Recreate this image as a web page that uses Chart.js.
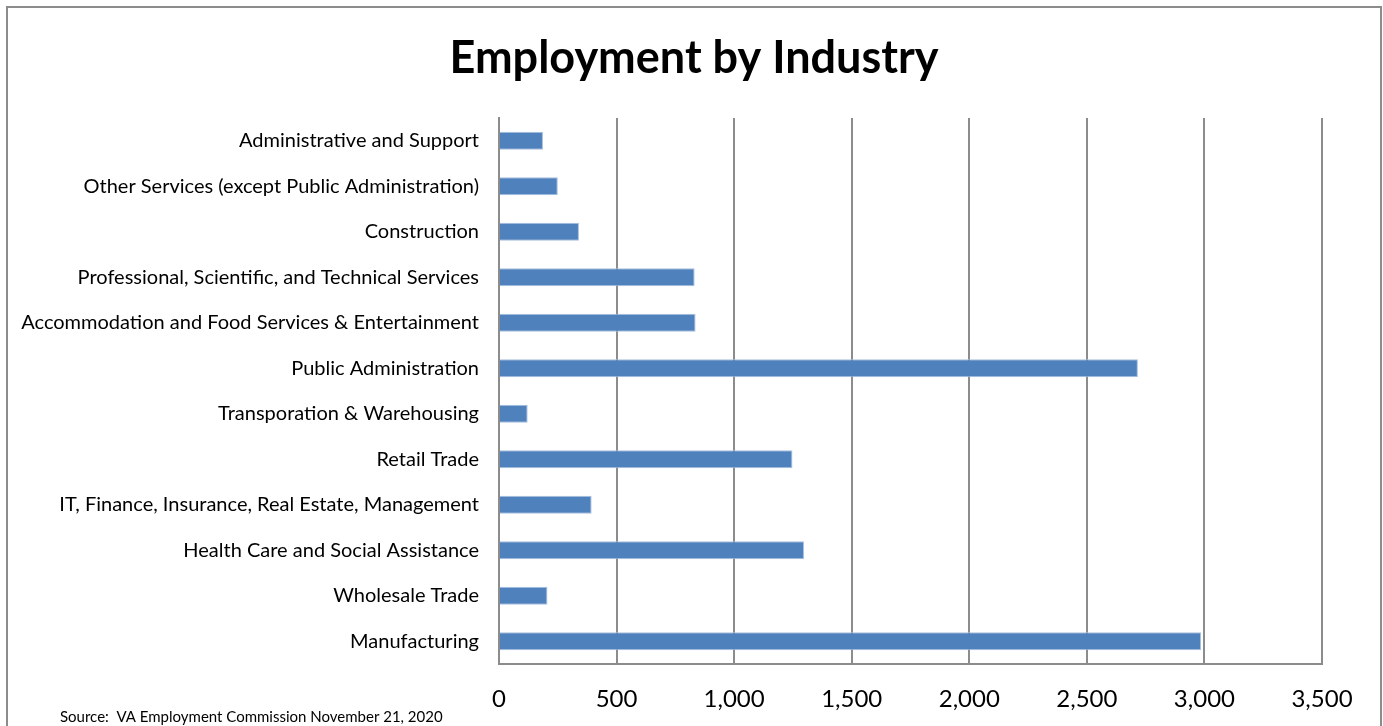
<!DOCTYPE html>
<html>
<head>
<meta charset="utf-8">
<title>Employment by Industry</title>
<script src="https://cdn.jsdelivr.net/npm/chart.js@4/dist/chart.umd.min.js"></script>
<style>
  html, body { margin: 0; padding: 0; background: #fff; }
  #wrap { width: 1383px; height: 726px; }
</style>
</head>
<body>
<div id="wrap"><canvas id="industryChart" width="1383" height="726"></canvas></div>
<script>
const industries = [
  "Administrative and Support",
  "Other Services (except Public Administration)",
  "Construction",
  "Professional, Scientific, and Technical Services",
  "Accommodation and Food Services & Entertainment",
  "Public Administration",
  "Transporation & Warehousing",
  "Retail Trade",
  "IT, Finance, Insurance, Real Estate, Management",
  "Health Care and Social Assistance",
  "Wholesale Trade",
  "Manufacturing",
];
const employees = [187, 250, 340, 832, 836, 2717, 122, 1248, 394, 1297, 206, 2986];
const xTicks = [0, 500, 1000, 1500, 2000, 2500, 3000, 3500];
const chartTitle = "Employment by Industry";
const sourceNote = "Source:  VA Employment Commission November 21, 2020";

const FONT = "Lato, 'Open Sans', sans-serif";

// outer frame, page-centred title and source line
const framePlugin = {
  id: "frame",
  beforeDraw(chart) {
    const ctx = chart.ctx;
    ctx.save();
    ctx.fillStyle = "#fff";
    ctx.fillRect(0, 0, chart.width, chart.height);
    ctx.strokeStyle = "#8c8c8c";
    ctx.lineWidth = 2;
    ctx.beginPath();
    ctx.moveTo(7, 730);
    ctx.lineTo(7, 7);
    ctx.lineTo(1381, 7);
    ctx.lineTo(1381, 730);
    ctx.stroke();
    ctx.restore();
  },
  afterDraw(chart) {
    const ctx = chart.ctx;
    ctx.save();
    ctx.fillStyle = "#000";
    ctx.textBaseline = "middle";
    ctx.textAlign = "center";
    ctx.font = "bold 45px " + FONT;
    ctx.fillText(chartTitle, 694, 58);
    ctx.textAlign = "left";
    ctx.font = "15px " + FONT;
    ctx.fillText(sourceNote, 60, 717);
    ctx.restore();
  },
};

const ctx = document.getElementById("industryChart").getContext("2d");
new Chart(ctx, {
  type: "bar",
  data: {
    labels: industries,
    datasets: [
      {
        label: "Employment",
        data: employees,
        backgroundColor: "#4f81bd",
        borderColor: "#a7c0e0",
        borderWidth: 1,
        borderSkipped: "left",
        categoryPercentage: 0.8,
        barPercentage: 0.5,
      },
    ],
  },
  options: {
    indexAxis: "y",
    responsive: false,
    animation: false,
    devicePixelRatio: 1,
    layout: { padding: { left: 20, right: 61, top: 118, bottom: 0 } },
    plugins: {
      legend: { display: false },
      tooltip: { enabled: false },
      title: { display: false },
    },
    scales: {
      x: {
        min: 0,
        max: 3500,
        afterBuildTicks(scale) {
          scale.ticks = xTicks.map((v) => ({ value: v }));
        },
        afterFit(scale) {
          scale.height = 62;
        },
        ticks: {
          color: "#000",
          font: { family: FONT, size: 24 },
          padding: 21,
          callback: (v) => v.toLocaleString("en-US"),
        },
        grid: { color: "#8c8c8c", lineWidth: 2, drawTicks: false },
        border: { color: "#8c8c8c", width: 2 },
      },
      y: {
        afterFit(scale) {
          scale.width = 479;
        },
        ticks: {
          color: "#000",
          font: { family: FONT, size: 20 },
          padding: 20,
        },
        grid: { display: false, drawTicks: false },
        border: { color: "#8c8c8c", width: 2 },
      },
    },
  },
  plugins: [framePlugin],
});
</script>
</body>
</html>
